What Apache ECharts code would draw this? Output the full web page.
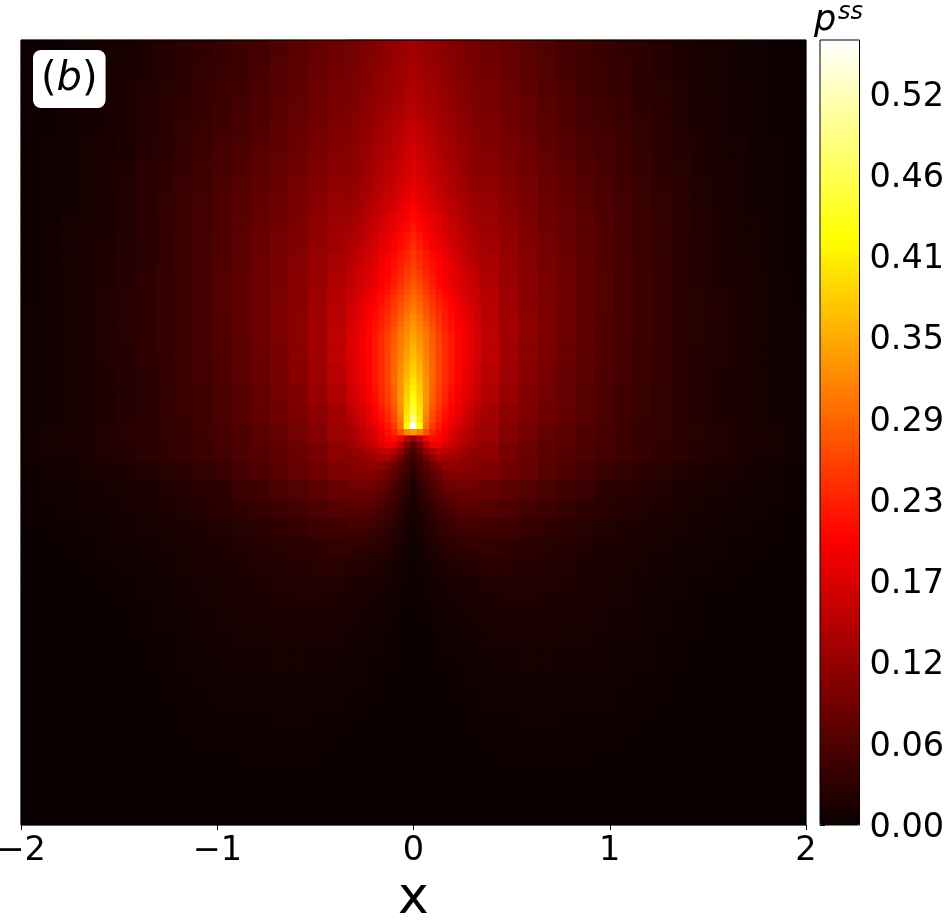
<!DOCTYPE html>
<html><head><meta charset="utf-8">
<style>html,body{margin:0;padding:0;background:#fff}#c{width:948px;height:923px}</style>
<script src="https://cdn.jsdelivr.net/npm/echarts@6/dist/echarts.min.js"></script>
</head><body><div id="c"></div>
<script>
// steady-state density, in thousandths; rows run top to bottom, 41 x 41
const fieldRows = [
[3,4,5,7,9,12,16,21,26,31,36,42,48,57,66,75,83,93,103,113,125,113,103,93,83,75,66,57,48,42,36,31,26,21,16,12,9,7,5,4,3],
[3,4,5,7,10,13,17,22,27,33,38,44,51,60,69,78,87,97,107,118,130,118,107,97,87,78,69,60,51,44,38,33,27,22,17,13,10,7,5,4,3],
[3,4,6,8,10,14,18,23,29,35,40,46,53,62,72,81,90,100,111,123,135,123,111,100,90,81,72,62,53,46,40,35,29,23,18,14,10,8,6,4,3],
[3,4,6,8,11,14,19,24,30,37,42,48,56,65,74,84,93,104,115,128,142,128,115,104,93,84,74,65,56,48,42,37,30,24,19,14,11,8,6,4,3],
[3,4,6,8,11,15,20,25,32,39,45,51,59,68,77,87,97,109,120,134,152,134,120,109,97,87,77,68,59,51,45,39,32,25,20,15,11,8,6,4,3],
[3,5,6,9,12,16,21,27,34,41,48,54,62,71,80,90,101,113,126,142,165,142,126,113,101,90,80,71,62,54,48,41,34,27,21,16,12,9,6,5,3],
[4,5,7,9,13,17,23,29,36,44,51,58,66,75,85,95,106,120,134,152,176,152,134,120,106,95,85,75,66,58,51,44,36,29,23,17,13,9,7,5,4],
[4,5,7,10,13,18,24,31,38,46,54,61,70,79,89,100,112,127,142,162,190,162,142,127,112,100,89,79,70,61,54,46,38,31,24,18,13,10,7,5,4],
[4,5,7,10,14,19,25,32,39,47,56,64,73,82,92,104,117,132,150,172,203,172,150,132,117,104,92,82,73,64,56,47,39,32,25,19,14,10,7,5,4],
[4,6,9,12,15,20,26,33,40,48,57,66,75,85,96,109,122,138,158,182,220,182,158,138,122,109,96,85,75,66,57,48,40,33,26,20,15,12,9,6,4],
[4,6,9,12,16,21,27,34,41,49,58,67,78,88,100,113,127,145,166,195,237,195,166,145,127,113,100,88,78,67,58,49,41,34,27,21,16,12,9,6,4],
[4,6,9,13,17,22,27,34,42,50,59,69,80,91,103,117,132,152,176,210,250,210,176,152,132,117,103,91,80,69,59,50,42,34,27,22,17,13,9,6,4],
[4,7,10,13,17,22,28,35,42,50,60,70,82,93,106,121,138,161,190,240,268,240,190,161,138,121,106,93,82,70,60,50,42,35,28,22,17,13,10,7,4],
[4,7,10,14,18,23,28,35,42,50,60,70,82,94,106,122,143,168,205,255,285,255,205,168,143,122,106,94,82,70,60,50,42,35,28,23,18,14,10,7,4],
[5,7,10,14,18,23,28,35,42,50,59,70,82,95,109,126,146,175,215,270,320,270,215,175,146,126,109,95,82,70,59,50,42,35,28,23,18,14,10,7,5],
[5,7,10,14,18,23,28,35,42,50,59,70,82,95,110,127,150,185,225,280,340,280,225,185,150,127,110,95,82,70,59,50,42,35,28,23,18,14,10,7,5],
[5,7,10,14,18,22,28,34,41,49,58,69,80,93,108,125,150,188,228,280,362,280,228,188,150,125,108,93,80,69,58,49,41,34,28,22,18,14,10,7,5],
[5,7,10,14,17,22,27,33,40,48,56,67,78,90,105,122,146,182,225,285,385,285,225,182,146,122,105,90,78,67,56,48,40,33,27,22,17,14,10,7,5],
[5,7,10,13,17,21,26,32,39,46,54,64,76,88,101,118,138,172,215,285,415,285,215,172,138,118,101,88,76,64,54,46,39,32,26,21,17,13,10,7,5],
[5,7,10,14,17,22,27,33,39,46,54,63,73,84,96,110,128,160,205,280,462,280,205,160,128,110,96,84,73,63,54,46,39,33,27,22,17,14,10,7,5],
[5,9,12,15,19,23,27,32,37,43,50,57,66,75,88,103,122,145,190,250,330,250,190,145,122,103,88,75,66,57,50,43,37,32,27,23,19,15,12,9,5],
[5,9,12,15,18,22,27,31,36,42,48,55,62,70,80,92,110,120,135,120,48,120,135,120,110,92,80,70,62,55,48,42,36,31,27,22,18,15,12,9,5],
[4,6,8,10,13,16,19,23,27,32,38,48,56,65,75,85,95,105,95,60,25,60,95,105,95,85,75,65,56,48,38,32,27,23,19,16,13,10,8,6,4],
[3,5,6,8,10,12,15,18,22,26,30,38,45,52,60,68,78,80,68,42,15,42,68,80,78,68,60,52,45,38,30,26,22,18,15,12,10,8,6,5,3],
[3,4,5,6,8,10,12,15,18,21,25,30,35,41,48,55,62,62,50,30,11,30,50,62,62,55,48,41,35,30,25,21,18,15,12,10,8,6,5,4,3],
[2,3,4,5,6,8,9,12,14,16,19,23,26,31,36,42,46,47,37,22,7,22,37,47,46,42,36,31,26,23,19,16,14,12,9,8,6,5,4,3,2],
[1,2,3,4,5,6,7,9,11,13,15,18,21,24,27,30,32,32,28,15,5,15,28,32,32,30,27,24,21,18,15,13,11,9,7,6,5,4,3,2,1],
[1,1,2,3,4,5,6,8,9,11,13,15,18,20,22,24,25,24,18,10,4,10,18,24,25,24,22,20,18,15,13,11,9,8,6,5,4,3,2,1,1],
[1,1,1,2,3,4,5,7,8,10,12,14,16,18,19,19,18,16,11,7,3,7,11,16,18,19,19,18,16,14,12,10,8,7,5,4,3,2,1,1,1],
[0,1,1,1,2,3,4,5,7,9,11,12,13,15,16,16,14,12,8,5,2,5,8,12,14,16,16,15,13,12,11,9,7,5,4,3,2,1,1,1,0],
[0,0,1,1,2,3,4,5,6,8,9,11,12,13,13,13,11,9,7,4,2,4,7,9,11,13,13,13,12,11,9,8,6,5,4,3,2,1,1,0,0],
[0,0,1,1,2,2,3,4,5,7,8,9,10,11,11,10,9,7,5,3,1,3,5,7,9,10,11,11,10,9,8,7,5,4,3,2,2,1,1,0,0],
[0,0,0,1,1,2,3,4,5,6,7,8,8,9,9,8,7,6,4,3,1,3,4,6,7,8,9,9,8,8,7,6,5,4,3,2,1,1,0,0,0],
[0,0,0,1,1,2,2,3,4,5,6,6,7,7,7,7,6,5,3,2,1,2,3,5,6,7,7,7,7,6,6,5,4,3,2,2,1,1,0,0,0],
[0,0,0,0,1,1,2,3,3,4,5,5,6,6,6,5,5,4,3,2,1,2,3,4,5,5,6,6,6,5,5,4,3,3,2,1,1,0,0,0,0],
[0,0,0,0,1,1,2,2,3,3,4,4,4,5,5,4,4,3,2,1,1,1,2,3,4,4,5,5,4,4,4,3,3,2,2,1,1,0,0,0,0],
[0,0,0,0,0,1,1,2,2,3,3,3,3,4,4,3,3,2,2,1,0,1,2,2,3,3,4,4,3,3,3,3,2,2,1,1,0,0,0,0,0],
[0,0,0,0,0,1,1,1,2,2,2,3,3,3,3,3,2,2,1,1,0,1,1,2,2,3,3,3,3,3,2,2,2,1,1,1,0,0,0,0,0],
[0,0,0,0,0,0,1,1,1,1,2,2,2,2,2,2,2,1,1,0,0,0,1,1,2,2,2,2,2,2,2,1,1,1,1,0,0,0,0,0,0],
[0,0,0,0,0,0,0,1,1,1,1,1,1,1,1,1,1,1,1,0,0,0,1,1,1,1,1,1,1,1,1,1,1,1,0,0,0,0,0,0,0],
[0,0,0,0,0,0,0,0,0,1,1,1,1,1,1,1,1,0,0,0,0,0,0,0,1,1,1,1,1,1,1,1,0,0,0,0,0,0,0,0,0]
];
// narrow column above the source, same units, 24 rows x 21 columns
const plumeRows = [
[88,91,94,97,101,105,108,112,116,120,125,120,116,112,108,105,101,97,94,91,88],
[89,92,95,99,103,107,110,114,119,123,128,123,119,114,110,107,103,99,95,92,89],
[90,93,97,100,104,108,113,117,121,126,131,126,121,117,113,108,104,100,97,93,90],
[91,94,98,102,106,110,115,119,124,129,134,129,124,119,115,110,106,102,98,94,91],
[92,96,99,103,108,112,117,121,126,132,137,132,126,121,117,112,108,103,99,96,92],
[94,98,101,106,110,115,119,124,129,134,140,134,129,124,119,115,110,106,101,98,94],
[95,99,102,107,112,117,121,126,131,137,143,137,131,126,121,117,112,107,102,99,95],
[97,101,105,110,115,120,125,130,135,141,147,141,135,130,125,120,115,110,105,101,97],
[99,103,107,112,118,123,128,133,139,146,152,146,139,133,128,123,118,112,107,103,99],
[100,105,109,114,120,126,131,137,143,150,157,150,143,137,131,126,120,114,109,105,100],
[102,107,111,117,123,129,135,141,148,155,162,155,148,141,135,129,123,117,111,107,102],
[104,109,114,120,126,132,139,145,152,160,167,160,152,145,139,132,126,120,114,109,104],
[105,110,116,122,128,135,142,149,156,164,172,164,156,149,142,135,128,122,116,110,105],
[106,112,117,124,131,138,145,152,160,168,177,168,160,152,145,138,131,124,117,112,106],
[109,115,121,127,135,142,149,156,164,173,182,173,164,156,149,142,135,127,121,115,109],
[112,118,124,131,139,146,154,161,170,179,188,179,170,161,154,146,139,131,124,118,112],
[115,121,128,135,143,151,159,167,176,185,195,185,176,167,159,151,143,135,128,121,115],
[119,126,132,140,148,157,165,174,183,193,203,193,183,174,165,157,148,140,132,126,119],
[122,129,136,144,154,162,172,181,190,201,212,201,190,181,172,162,154,144,136,129,122],
[126,134,141,150,159,168,178,187,197,209,220,209,197,187,178,168,159,150,141,134,126],
[130,138,146,155,165,175,185,195,206,218,230,218,206,195,185,175,165,155,146,138,130],
[134,142,151,160,170,181,191,202,213,226,238,226,213,202,191,181,170,160,151,142,134],
[138,147,156,166,176,188,199,210,222,235,248,235,222,210,199,188,176,166,156,147,138],
[143,152,161,171,183,194,205,216,229,242,256,242,229,216,205,194,183,171,161,152,143]
];
// finer reading of the bright plume around the source, same units, 30 rows x 21 columns
const sourceRows = [
[148,157,166,175,185,195,206,220,235,250,262,250,235,220,206,195,185,175,166,157,148],
[150,159,168,177,187,198,209,224,240,256,270,256,240,224,209,198,187,177,168,159,150],
[152,161,170,180,191,202,214,229,246,263,278,263,246,229,214,202,191,180,170,161,152],
[155,164,173,184,196,207,220,236,253,271,286,271,253,236,220,207,196,184,173,164,155],
[158,168,178,190,203,214,228,245,262,280,295,280,262,245,228,214,203,190,178,168,158],
[161,171,181,193,206,218,233,250,270,288,303,288,270,250,233,218,206,193,181,171,161],
[164,174,184,196,209,222,238,255,276,296,312,296,276,255,238,222,209,196,184,174,164],
[166,177,187,199,213,226,243,261,283,303,320,303,283,261,243,226,213,199,187,177,166],
[168,180,190,202,216,230,248,268,291,311,328,311,291,268,248,230,216,202,190,180,168],
[170,182,193,205,219,234,253,274,298,318,335,318,298,274,253,234,219,205,193,182,170],
[172,185,196,208,222,238,258,280,305,325,342,325,305,280,258,238,222,208,196,185,172],
[172,185,196,208,223,240,260,283,308,329,348,329,308,283,260,240,223,208,196,185,172],
[171,184,195,208,223,240,261,285,311,334,355,334,311,285,261,240,223,208,195,184,171],
[170,182,194,207,223,240,262,287,315,340,362,340,315,287,262,240,223,207,194,182,170],
[168,181,193,206,222,240,262,288,318,346,370,346,318,288,262,240,222,206,193,181,168],
[167,180,192,206,222,240,262,289,321,352,377,352,321,289,262,240,222,206,192,180,167],
[166,179,191,205,222,240,262,290,323,358,385,358,323,290,262,240,222,205,191,179,166],
[165,178,190,205,222,240,262,290,325,365,395,365,325,290,262,240,222,205,190,178,165],
[161,174,186,202,218,237,259,288,328,372,405,372,328,288,259,237,218,202,186,174,161],
[158,171,183,199,215,235,257,286,329,378,415,378,329,286,257,235,215,199,183,171,158],
[155,168,180,197,213,233,255,285,330,385,428,385,330,285,255,233,213,197,180,168,155],
[150,162,175,191,207,227,248,279,326,392,445,392,326,279,248,227,207,191,175,162,150],
[145,157,170,185,201,221,241,272,320,396,462,396,320,272,241,221,201,185,170,157,145],
[140,152,165,178,195,215,235,265,310,400,490,400,310,265,235,215,195,178,165,152,140],
[133,145,157,170,186,205,225,250,300,420,555,420,300,250,225,205,186,170,157,145,133],
[127,138,150,162,177,195,215,235,270,310,330,310,270,235,215,195,177,162,150,138,127],
[127,137,148,160,172,190,205,215,195,150,120,150,195,215,205,190,172,160,148,137,127],
[120,128,138,148,160,175,190,190,150,100,70,100,150,190,190,175,160,148,138,128,120],
[110,117,124,133,142,150,155,140,110,78,55,78,110,140,155,150,142,133,124,117,110],
[102,108,115,122,128,132,130,112,85,58,42,58,85,112,130,132,128,122,115,108,102]
];
// dark wedge under the source, same units, 18 rows x 21 columns
const wedgeRows = [
[102,106,110,112,112,108,98,82,64,48,34,48,64,82,98,108,112,112,110,106,102],
[96,98,100,100,98,92,80,66,52,38,26,38,52,66,80,92,98,100,100,98,96],
[86,88,88,88,85,78,68,56,43,30,20,30,43,56,68,78,85,88,88,88,86],
[78,78,78,76,72,66,58,47,36,25,15,25,36,47,58,66,72,76,78,78,78],
[68,68,68,66,62,56,48,40,30,20,12,20,30,40,48,56,62,66,68,68,68],
[60,60,59,57,53,47,41,33,25,17,10,17,25,33,41,47,53,57,59,60,60],
[52,51,49,47,43,39,33,27,20,13,8,13,20,27,33,39,43,47,49,51,52],
[44,43,41,39,36,32,27,22,16,11,6,11,16,22,27,32,36,39,41,43,44],
[36,35,34,32,29,26,22,18,13,8,5,8,13,18,22,26,29,32,34,35,36],
[30,29,27,26,24,21,18,14,10,7,4,7,10,14,18,21,24,26,27,29,30],
[25,24,23,21,19,17,15,12,9,6,4,6,9,12,15,17,19,21,23,24,25],
[21,20,19,17,16,14,12,10,7,5,3,5,7,10,12,14,16,17,19,20,21],
[17,16,15,14,13,12,10,8,6,4,3,4,6,8,10,12,13,14,15,16,17],
[15,14,13,12,11,10,8,7,5,4,2,4,5,7,8,10,11,12,13,14,15],
[13,12,11,10,9,8,7,6,4,3,2,3,4,6,7,8,9,10,11,12,13],
[12,11,10,9,8,7,6,5,4,3,2,3,4,5,6,7,8,9,10,11,12],
[10,10,9,8,7,6,5,4,3,3,2,3,3,4,5,6,7,8,9,10,10],
[9,8,8,7,6,5,5,4,3,2,2,2,3,4,5,5,6,7,8,8,9]
];
const xTickValues = [-2, -1, 0, 1, 2];
const xTickLabels = ['\u22122', '\u22121', '0', '1', '2'];
const barTickValues = [0, 0.058, 0.116, 0.174, 0.232, 0.29, 0.348, 0.406, 0.464, 0.522];
const barTickLabels = ['0.00', '0.06', '0.12', '0.17', '0.23', '0.29', '0.35', '0.41', '0.46', '0.52'];
const barMax = 0.5607;

const FONT = 'DejaVu Sans';
// matplotlib "hot" colour ramp
const hot = [];
for (let i = 0; i <= 120; i++) {
  const t = i / 120;
  const r = Math.min(1, 0.0416 + t * (1 - 0.0416) / 0.365);
  const g = Math.max(0, Math.min(1, (t - 0.365) / 0.381));
  const b = Math.max(0, Math.min(1, (t - 0.746) / 0.254));
  hot.push('rgb(' + Math.round(r * 255) + ',' + Math.round(g * 255) + ',' + Math.round(b * 255) + ')');
}
const toCells = rows => rows.flatMap((row, y) => row.map((v, x) => [x, y, v / 1000]));
const idx = n => Array.from({length: n}, (_, i) => String(i));
const heat = (rows, xi, yi) => ({type: 'heatmap', xAxisIndex: xi, yAxisIndex: yi, data: toCells(rows), progressive: 0, emphasis: {disabled: true}, itemStyle: {borderWidth: 0}});
const hiddenCat = (grid, n, extra) => Object.assign({type: 'category', gridIndex: grid, data: idx(n), show: false}, extra || {});
const plainGrid = (top, height) => ({left: 346.5, top: top, width: 134, height: height, show: false, outerBoundsMode: 'none', containLabel: false});

const chart = echarts.init(document.getElementById('c'), null, {renderer: 'canvas'});
chart.setOption({
  animation: false,
  backgroundColor: '#fff',
  graphic: [{type: 'rect', left: 21, top: 40, shape: {width: 785, height: 785}, style: {fill: '#0b0000'}, z: -1, silent: true}],
  title: [
    {text: '{a|(}{b|b}{a|)}', left: 33, top: 50, padding: [10, 8, 8, 8], backgroundColor: '#fff', borderRadius: 8, z: 20,
     textStyle: {fontWeight: 'normal', rich: {
       a: {fontFamily: FONT, fontWeight: 'normal', fontSize: 40, color: '#000', lineHeight: 40},
       b: {fontFamily: FONT, fontWeight: 'normal', fontStyle: 'italic', fontSize: 40, color: '#000', lineHeight: 40}
     }}},
    {text: 'p', left: 814, top: 3, padding: 0, textStyle: {fontFamily: FONT, fontStyle: 'italic', fontWeight: 'normal', fontSize: 35, color: '#000'}},
    {text: 'ss', left: 838, top: 1, padding: 0, textStyle: {fontFamily: FONT, fontStyle: 'italic', fontWeight: 'normal', fontSize: 24, color: '#000'}}
  ],
  grid: [
    {left: 21, top: 40, width: 785, height: 785, show: true, borderColor: '#000', borderWidth: 1, backgroundColor: 'transparent', z: 10, outerBoundsMode: 'none', containLabel: false},
    plainGrid(269.75, 191.46),
    {left: 820, top: 40, width: 39.5, height: 785, show: true, borderColor: '#000', borderWidth: 1, backgroundColor: 'transparent', z: 10, outerBoundsMode: 'none', containLabel: false},
    plainGrid(40, 229.75),
    plainGrid(461.21, 172.31)
  ],
  xAxis: [
    hiddenCat(0, 41),
    {type: 'value', gridIndex: 0, min: -2, max: 2, position: 'bottom', splitLine: {show: false},
     axisLine: {show: false},
     axisTick: {show: true, length: 5, customValues: xTickValues, lineStyle: {color: '#000', width: 1}},
     axisLabel: {customValues: xTickValues, formatter: (v, i) => xTickLabels[xTickValues.indexOf(v)], fontFamily: FONT, fontSize: 33.5, color: '#000', margin: 9},
     name: 'x', nameLocation: 'middle', nameGap: 48, nameTextStyle: {fontFamily: FONT, fontSize: 52, color: '#000'}},
    hiddenCat(1, 21),
    {type: 'value', gridIndex: 2, min: 0, max: 1, show: false},
    hiddenCat(3, 21),
    hiddenCat(4, 21)
  ],
  yAxis: [
    hiddenCat(0, 41, {inverse: true}),
    hiddenCat(1, 30, {inverse: true}),
    {type: 'value', gridIndex: 2, min: 0, max: barMax, position: 'right', splitLine: {show: false},
     axisLine: {show: false},
     axisTick: {show: true, length: 5, customValues: barTickValues, lineStyle: {color: '#000', width: 1}},
     axisLabel: {customValues: barTickValues, formatter: (v, i) => barTickLabels[barTickValues.indexOf(v)], fontFamily: FONT, fontSize: 33.5, color: '#000', margin: 10, verticalAlign: 'top', lineHeight: 6}},
    hiddenCat(3, 24, {inverse: true}),
    hiddenCat(4, 18, {inverse: true})
  ],
  visualMap: {
    type: 'continuous', seriesIndex: [0, 1, 2, 3], min: 0, max: barMax, calculable: false, hoverLink: false,
    left: 820, top: 40, itemWidth: 39.5, itemHeight: 785, padding: 0, text: null, showLabel: false,
    inRange: {color: hot}
  },
  series: [
    heat(fieldRows, 0, 0),
    heat(sourceRows, 2, 1),
    heat(plumeRows, 4, 3),
    heat(wedgeRows, 5, 4)
  ]
});
</script></body></html>
